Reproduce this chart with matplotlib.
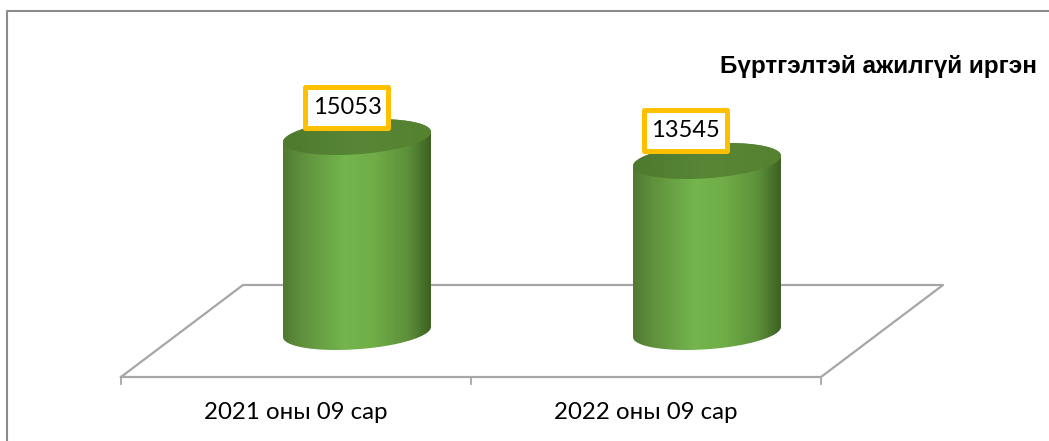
import numpy as np
import matplotlib.pyplot as plt
from matplotlib.colors import LinearSegmentedColormap
from matplotlib.patches import Polygon, Rectangle

plt.rcParams['font.family'] = ['Lato', 'Open Sans', 'DejaVu Sans']

categories = ['2021 оны 09 сар', '2022 оны 09 сар']
values = [15053, 13545]
title = 'Бүртгэлтэй ажилгүй иргэн'

BASE = 2790
HALF_W = 0.2114 # category units
TILT = 320 # value units, lean of the ellipses
DEPTH = 1085 # value units
PX_X = 1 / 350 # category units per pixel
PX_Y = 1 / 0.0159 # value units per pixel

fig = plt.figure(figsize=(10.49, 4.41), dpi=100)

# chart furniture, in pixels
bg = fig.add_axes([0, 0, 1, 1])
bg.set_xlim(0, 1049)
bg.set_ylim(441, 0)
bg.axis('off')
bg.plot([7, 7, 1049], [441, 11, 11], color='#8c8c8c', lw=1.5)
grey = '#a6a6a6'
bg.plot([121, 243, 943, 821, 121], [377, 285, 285, 377, 377], color=grey, lw=1.6)
for x in [121, 471, 821]:
    bg.plot([x, x], [377, 384], color=grey, lw=1.3)

# value axes, covers the whole figure so the scale lines up with the floor
ax = fig.add_axes([0, 0, 1, 1], facecolor='none')
xlim = (-357 * PX_X, (1049 - 357) * PX_X)
ylim = (BASE - 109 * PX_Y, BASE + 332 * PX_Y)
ax.axis('off')

body_cmap = LinearSegmentedColormap.from_list('body', [
    (0.0, '#4f7a31'), (0.12, '#5f8f3c'), (0.42, '#74b54d'),
    (0.62, '#70ad47'), (0.85, '#5c8f3a'), (1.0, '#3c6022')])
top_cmap = LinearSegmentedColormap.from_list('top', ['#4e7a2e', '#588636', '#55822f'])

t = np.linspace(0, 2 * np.pi, 200)
box_dx = [-10, -22] # label box offset from bar centre, pixels

def ellipse(xc, yc, ts):
    return xc + HALF_W * np.cos(ts), yc + TILT * np.cos(ts) + DEPTH * np.sin(ts)

for i, v in enumerate(values):
    # outline: back of the top ellipse is hidden by the lid drawn after
    xt, yt = ellipse(i, v, np.linspace(0, np.pi, 80))
    xb, yb = ellipse(i, BASE, np.linspace(np.pi, 2 * np.pi, 80))
    outline = Polygon(np.column_stack([np.r_[xt, xb], np.r_[yt, yb]]),
                      transform=ax.transData, fc='none', ec='none')
    ax.add_patch(outline)
    im = ax.imshow(np.linspace(0, 1, 256)[None, :], cmap=body_cmap, aspect='auto',
                   extent=(i - HALF_W, i + HALF_W, BASE - 1500, v + 1500), zorder=2)
    im.set_clip_path(outline)
    xl, yl = ellipse(i, v, t)
    lid = Polygon(np.column_stack([xl, yl]), transform=ax.transData, fc='none', ec='none')
    ax.add_patch(lid)
    im2 = ax.imshow(np.linspace(0, 1, 256)[None, :], cmap=top_cmap, aspect='auto',
                    extent=(i - HALF_W, i + HALF_W, v - 1500, v + 1500), zorder=3)
    im2.set_clip_path(lid)

    # data label box
    cx = i + box_dx[i] * PX_X
    cy = v + 30 * PX_Y
    ax.add_patch(Rectangle((cx - 41.5 * PX_X, cy - 20.5 * PX_Y), 83 * PX_X, 41 * PX_Y,
                           fc='white', ec='#ffc000', lw=3.6, joinstyle='round', zorder=5))
    ax.text(cx, cy, str(v), ha='center', va='center', fontsize=17, color='black', zorder=6)

    ax.annotate(categories[i], (i, BASE), xytext=(-44, -58),
                textcoords='offset points', ha='center', va='center',
                fontsize=17.3, color='black')

ax.set_xlim(*xlim)
ax.set_ylim(*ylim)

bg.text(1037, 66, title, ha='right', va='center', fontsize=17.5, fontweight='bold',
        family='Liberation Sans', color='black')

fig.savefig('out.png', dpi=100)
